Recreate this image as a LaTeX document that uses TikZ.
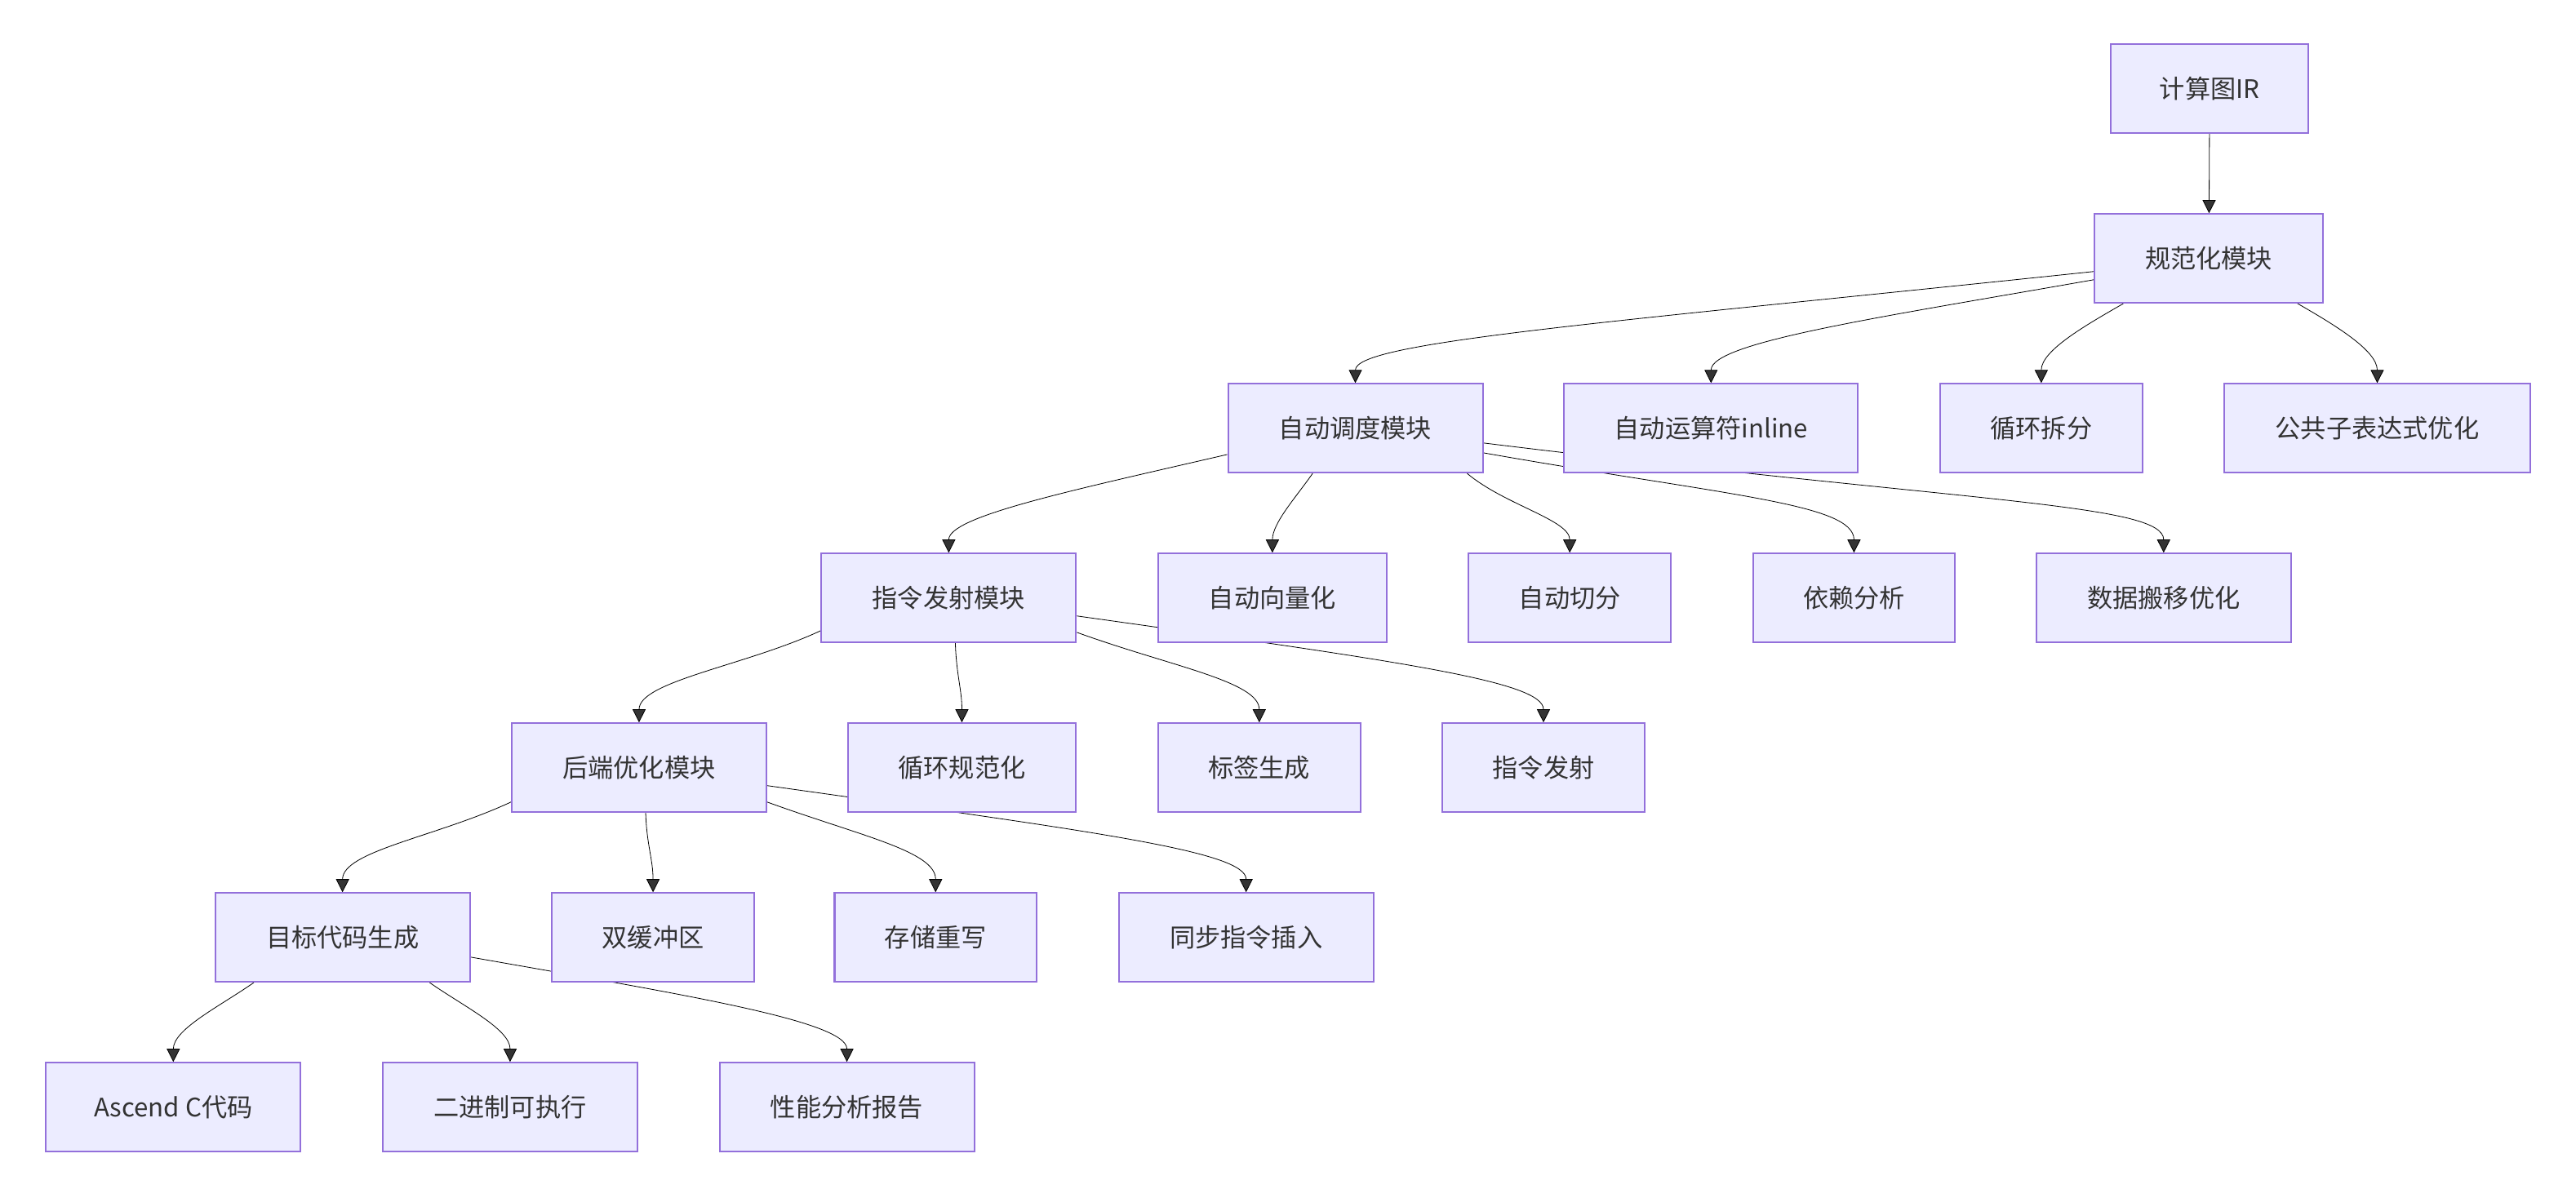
\documentclass[tikz,border=0pt]{standalone}
\usepackage{fontspec}
\setmainfont{Noto Sans CJK SC}
\usetikzlibrary{arrows.meta,backgrounds}
\definecolor{boxfill}{HTML}{ECECFF}
\definecolor{boxline}{HTML}{9370DB}
\definecolor{edgeline}{HTML}{333333}
\begin{document}
\begin{tikzpicture}[x=1pt,y=1pt,
    every node/.style={draw=boxline,fill=boxfill,line width=1pt,text=edgeline,
      minimum height=54pt,inner sep=0pt,font=\fontsize{15.5}{18}\selectfont},
    w4/.style={minimum width=123pt},
    w5/.style={minimum width=139pt},
    w6/.style={minimum width=155pt},
    link/.style={draw=edgeline,line width=1.1pt,-{Triangle[length=8pt,width=8pt]}}]
  \useasboundingbox (0,0) rectangle (1568,729);
  \draw
    (1345,675) node[minimum width=120pt] (ir){计算图IR}
    (1344.5,571.7) node[w5] (norm){规范化模块}
    (825,468.3) node[w6] (sched){自动调度模块}
    (1041.5,468.3) node[minimum width=179pt] (inl){自动运算符inline}
    (1242.5,468.3) node[w4] (split){循环拆分}
    (1447,468.3) node[minimum width=186pt] (cse){公共子表达式优化}
    (577.5,365) node[w6] (emit){指令发射模块}
    (774.5,365) node[w5] (vec){自动向量化}
    (955.5,365) node[w4] (tile){自动切分}
    (1128.5,365) node[w4] (dep){依赖分析}
    (1317,365) node[w6] (move){数据搬移优化}
    (389,261.7) node[w6] (back){后端优化模块}
    (585.5,261.7) node[w5] (loopn){循环规范化}
    (766.5,261.7) node[w4] (label){标签生成}
    (939.5,261.7) node[w4] (inst){指令发射}
    (208.5,158.3) node[w6] (gen){目标代码生成}
    (397.5,158.3) node[w4] (dbuf){双缓冲区}
    (569.5,158.3) node[w4] (store){存储重写}
    (758.5,158.3) node[w6] (sync){同步指令插入}
    (105.5,55) node[w6] (asc){Ascend C代码}
    (310.5,55) node[w6] (bin){二进制可执行}
    (515.5,55) node[w6] (perf){性能分析报告};
  \begin{scope}[on background layer,link]
    \draw (ir) to (norm);
    \draw ([yshift=-8pt]norm.west) to[out=186,in=90,out distance=300pt,in distance=25pt] (sched.north);
    \draw ([yshift=-13pt]norm.west) to[out=190,in=90,out distance=130pt,in distance=25pt] (inl.north);
    \draw ([xshift=-52pt]norm.south) to[out=210,in=90,out distance=25pt,in distance=20pt] (split.north);
    \draw ([xshift=54pt]norm.south) to[out=330,in=90,out distance=25pt,in distance=20pt] (cse.north);
    \draw ([yshift=-16pt]sched.west) to[out=193,in=90,out distance=100pt,in distance=22pt] (emit.north);
    \draw ([xshift=-26pt]sched.south) to[out=235,in=90,out distance=18pt,in distance=18pt] (vec.north);
    \draw ([xshift=68pt]sched.south) to[out=320,in=90,out distance=30pt,in distance=20pt] (tile.north);
    \draw ([yshift=-15pt]sched.east) to[out=350,in=90,out distance=150pt,in distance=30pt] (dep.north);
    \draw ([yshift=-9pt]sched.east) to[out=353,in=90,out distance=300pt,in distance=30pt] (move.north);
    \draw ([yshift=-20pt]emit.west) to[out=205,in=90,out distance=50pt,in distance=25pt] (back.north);
    \draw ([xshift=4pt]emit.south) to[out=272,in=90,out distance=20pt,in distance=20pt] (loopn.north);
    \draw ([yshift=-21pt]emit.east) to[out=340,in=90,out distance=60pt,in distance=25pt] (label.north);
    \draw ([yshift=-11pt]emit.east) to[out=352,in=90,out distance=200pt,in distance=25pt] (inst.north);
    \draw ([yshift=-21pt]back.west) to[out=205,in=90,out distance=50pt,in distance=25pt] (gen.north);
    \draw ([xshift=4pt]back.south) to[out=272,in=90,out distance=20pt,in distance=20pt] (dbuf.north);
    \draw ([yshift=-21pt]back.east) to[out=340,in=90,out distance=60pt,in distance=25pt] (store.north);
    \draw ([yshift=-11pt]back.east) to[out=352,in=90,out distance=200pt,in distance=25pt] (sync.north);
    \draw ([xshift=-54pt]gen.south) to[out=215,in=90,out distance=25pt,in distance=20pt] (asc.north);
    \draw ([xshift=53pt]gen.south) to[out=325,in=90,out distance=25pt,in distance=20pt] (bin.north);
    \draw ([yshift=-12pt]gen.east) to[out=350,in=90,out distance=130pt,in distance=25pt] (perf.north);
  \end{scope}
\end{tikzpicture}
\end{document}
